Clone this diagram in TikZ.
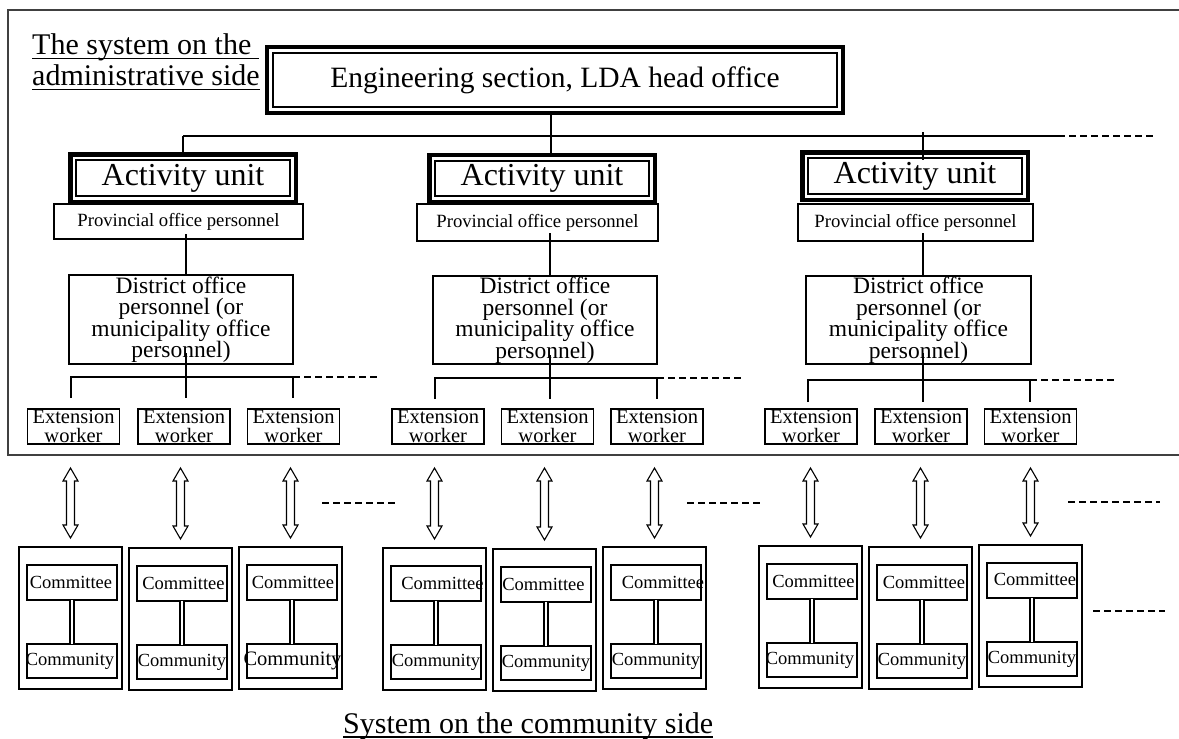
\documentclass[tikz,border=0pt]{standalone}
\usepackage{fontspec}
\setmainfont{Liberation Serif}
\usetikzlibrary{calc}
\newcommand\myul[1]{\setbox0\hbox{#1}\rlap{\rule[-4.5pt]{\wd0}{1.4pt}}\box0}
\newcommand\sh[2]{\makebox[0pt]{\kern#1pt\relax #2\kern-#1pt\relax}}
\newcommand\tight{\lineskiplimit=-50pt\lineskip=0pt}
\newcommand\fEng{\fontsize{29.5}{34}\selectfont}
\newcommand\fAct{\fontsize{32}{36}\selectfont}
\newcommand\fProv{\fontsize{18.7}{22}\selectfont}
\newcommand\fDist{\fontsize{23.5}{21.5}\selectfont\tight}
\newcommand\fExt{\fontsize{20.5}{18.5}\selectfont\tight}
\newcommand\fLab{\fontsize{30}{31}\selectfont\tight}
\newcommand\fCom{\fontsize{18.5}{22}\selectfont}
% community block: #1 name, #2 left, #3 top, #4 committee dx, #5 committee raise, #6 community dx, #7 community size
\newcommand\cblock[7]{%
  \node[box, line width=1.5pt, minimum width=103pt, minimum height=142pt] (o#1) at (#2+51.5,#3+71) {};
  \node[box, minimum width=90pt, minimum height=35pt, font=\fCom] (cm#1) at (#2+53,#3+35.5) {\sh{#4}{\raisebox{#5}{Committee}}};
  \node[box, minimum width=90pt, minimum height=34pt, font=\fontsize{#7}{22}\selectfont] (cy#1) at (#2+53,#3+114) {\sh{#6}{Community}};
  \draw[dbl] (cm#1) -- (cy#1);
}
% hollow double arrow from node #1 (above) to node #2 (below)
\newcommand\dblarr[2]{%
  \draw[harr] ($(#1.south -| #2.north)+(0,24)$) -- ++(7.5,13) -- ++(-3.5,0)
    -- ($(#2.north)+(4,-22)$) -- ++(3.5,0) -- ($(#2.north)+(0,-9)$)
    -- ++(-7.5,-13) -- ++(3.5,0) -- ($(#1.south -| #2.north)+(-4,37)$)
    -- ++(-3.5,0) -- cycle;
}
\begin{document}
\begin{tikzpicture}[x=1pt,y=-1pt,
  box/.style={draw, line width=1.4pt, inner sep=0pt, outer sep=0pt, align=center},
  conn/.style={line width=1.3pt},
  dsh/.style={line width=1.8pt, dash pattern=on 7pt off 4pt},
  dbl/.style={draw, double=white, line width=2.7pt, double distance=1.1pt},
  harr/.style={draw, fill=white, line width=1.1pt, line join=miter},
  frame/.style={draw=black!75, line width=1.6pt}]
\useasboundingbox (0,0) rectangle (1179,739);
\fill[white] (0,0) rectangle (1179,739);

% frame of the administrative side
\draw[frame] (1179,10) -- (8,10) -- (8,455) -- (1179,455);

% label
\node[anchor=north west, inner sep=0pt, align=left, font=\fLab] (adm) at (32,33.5)
  {\myul{The system on the\ }\\\myul{administrative side}};

% head office
\node[box, line width=4pt, minimum width=576pt, minimum height=66pt, font=\fEng] (eng) at (555,80)
  {Engineering section, LDA head office};
\draw[line width=2.5pt] ([shift={(6pt,-6pt)}]eng.north west) rectangle ([shift={(-6pt,6pt)}]eng.south east);

% provincial boxes
\node[box, minimum width=249pt, minimum height=35pt, font=\fProv] (prov1) at (178.5,221.5) {\raisebox{4pt}{Provincial office personnel}};
\node[box, minimum width=241pt, minimum height=37pt, font=\fProv] (prov2) at (537.5,222.5) {\raisebox{4pt}{Provincial office personnel}};
\node[box, minimum width=235pt, minimum height=37pt, font=\fProv] (prov3) at (915.5,222.5) {\raisebox{4pt}{Provincial office personnel}};

% activity units
\foreach \n/\x/\y in {act1/183/178, act2/542/178.5, act3/915/176}{
  \node[box, line width=4.5pt, minimum width=225.5pt, minimum height=47.5pt, font=\fAct] (\n) at (\x,\y) {Activity unit};
  \draw[line width=1.8pt] ([shift={(6pt,-6pt)}]\n.north west) rectangle ([shift={(-6pt,6pt)}]\n.south east);
}

% district offices
\node[box, minimum width=224pt, minimum height=89pt, font=\fDist] (dist1) at (181,319.5)
  {District office\\personnel (or\\municipality office\\personnel)};
\node[box, minimum width=224pt, minimum height=88pt, font=\fDist] (dist2) at (545,320)
  {District office\\personnel (or\\municipality office\\personnel)};
\node[box, minimum width=225pt, minimum height=88pt, font=\fDist] (dist3) at (918.5,320)
  {District office\\personnel (or\\municipality office\\personnel)};

% extension workers
\foreach \n/\x in {ext1a/73.5, ext1b/184, ext1c/293.5, ext2a/438, ext2b/547.5, ext2c/657, ext3a/811, ext3b/921, ext3c/1030.5}{
  \node[box, minimum width=92pt, minimum height=35pt, font=\fExt] (\n) at (\x,426.5) {Extension\\worker};
}

% top bus
\coordinate (busL) at (183,136);
\coordinate (busR) at (1058,136);
\coordinate (busD) at (1155,136);
\draw[conn] (busL) -- (busR);
\draw[dsh] (busR) -- (busD);
\draw[conn] (busL) -- (act1.north);
\draw[conn] ([xshift=-4pt]eng.south) -- ([xshift=9pt]act2.north);
\draw[conn] ($(act3.north |- busL)+(8,-4)$) -- ($(act3.north)+(8,8)$);

% column axes
\coordinate (c1) at (186,0);
\coordinate (c2) at (550,0);
\coordinate (c3) at (923,0);

% provincial -> district
\draw[conn] ($(prov1.south -| c1)+(0,-5)$) -- (dist1.north -| c1);
\draw[conn] ($(prov2.south -| c2)+(0,-8)$) -- (dist2.north -| c2);
\draw[conn] ($(prov3.south -| c3)+(0,-8)$) -- (dist3.north -| c3);

% district -> extension workers
\draw[conn] ($(dist1.south -| c1)+(0,-11)$) -- ($(ext1b.north -| c1)+(0,-11)$);
\draw[conn] ($(dist2.south -| c2)+(0,-9)$) -- ($(ext2b.north -| c2)+(0,-10)$);
\draw[conn] ($(dist3.south -| c3)+(0,-11)$) -- ($(ext3b.north -| c3)+(0,-7)$);

\coordinate (e1L) at (71,377);  \coordinate (e1R) at (293,377);  \coordinate (e1D) at (380,377);
\coordinate (e2L) at (435,378); \coordinate (e2R) at (657,378);  \coordinate (e2D) at (743,378);
\coordinate (e3L) at (808,380); \coordinate (e3R) at (1030,380); \coordinate (e3D) at (1117,380);
\draw[conn] ($(ext1a.north -| e1L)+(0,-11)$) |- (e1R) -- ($(ext1c.north -| e1R)+(0,-11)$);
\draw[conn] ($(ext2a.north -| e2L)+(0,-10)$) |- (e2R) -- ($(ext2c.north -| e2R)+(0,-10)$);
\draw[conn] ($(ext3a.north -| e3L)+(0,-7)$) |- (e3R) -- ($(ext3c.north -| e3R)+(0,-7)$);
\draw[dsh] (e1R) -- (e1D);
\draw[dsh] (e2R) -- (e2D);
\draw[dsh] (e3R) -- (e3D);

% community blocks
\cblock{1a}{19}{547}{-1}{0pt}{-2}{18.5}
\cblock{1b}{129}{548}{1.5}{1pt}{0}{18.5}
\cblock{1c}{239}{547}{1}{0pt}{0.5}{20.5}
\cblock{2a}{383}{548}{6.5}{0pt}{0}{18.5}
\cblock{2b}{493}{549}{-2.5}{0pt}{0}{18.5}
\cblock{2c}{603}{547}{7}{0pt}{0}{18.5}
\cblock{3a}{759}{546}{1.5}{0pt}{-2}{18.5}
\cblock{3b}{869}{547}{2}{0pt}{0}{18.5}
\cblock{3c}{979}{545}{3}{3pt}{0}{18.5}

% double arrows
\dblarr{ext1a}{o1a} \dblarr{ext1b}{o1b} \dblarr{ext1c}{o1c}
\dblarr{ext2a}{o2a} \dblarr{ext2b}{o2b} \dblarr{ext2c}{o2c}
\dblarr{ext3a}{o3a} \dblarr{ext3b}{o3b} \dblarr{ext3c}{o3c}

% continuation dashes
\coordinate (d1a) at (322,503);  \coordinate (d1b) at (398,503);
\coordinate (d2a) at (687,503);  \coordinate (d2b) at (763,503);
\coordinate (d3a) at (1068,502); \coordinate (d3b) at (1160,502);
\coordinate (d4a) at (1093,611); \coordinate (d4b) at (1165,611);
\draw[dsh] (d1a) -- (d1b);
\draw[dsh] (d2a) -- (d2b);
\draw[dsh] (d3a) -- (d3b);
\draw[dsh] (d4a) -- (d4b);

% community side label
\node[anchor=base west, inner sep=0pt, font=\fLab] (com) at (343,733) {\myul{System on the community side}};
\end{tikzpicture}
\end{document}
